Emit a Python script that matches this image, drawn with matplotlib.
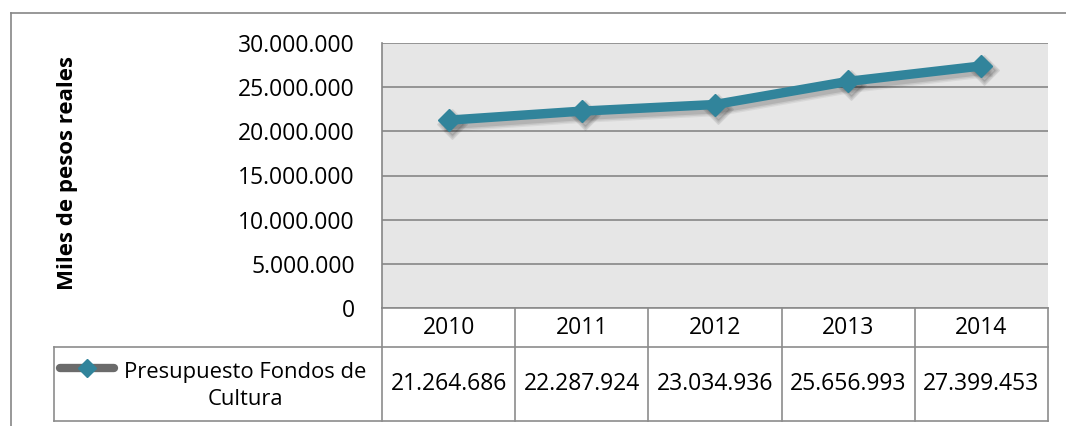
import matplotlib
matplotlib.use("Agg")
import matplotlib.pyplot as plt
from matplotlib.lines import Line2D
from matplotlib.ticker import FuncFormatter, MultipleLocator
from matplotlib.transforms import offset_copy

# data
years = ["2010", "2011", "2012", "2013", "2014"]
presupuesto = [21264686, 22287924, 23034936, 25656993, 27399453]
serie_nombre = "Presupuesto Fondos de\nCultura"
y_label = "Miles de pesos reales"

TEAL = "#31849b"
GRID = "#868686"
plt.rcParams["font.family"] = ["Open Sans", "DejaVu Sans"]
FS = 16.5


def miles(v, pos=None):
    return f"{int(round(v)):,}".replace(",", ".")


fig = plt.figure(figsize=(10.66, 4.26), dpi=100)
ax = fig.add_axes([382 / 1066, 1 - 308 / 426, 666 / 1066, 265 / 426])
ax.set_facecolor("#e6e6e6")

x = list(range(len(years)))
# soft drop shadow under the series (a few faint layers to fake a blur)
for w, a in [(11, 0.06), (9, 0.08), (7, 0.10)]:
    shadow_tr = offset_copy(ax.transData, fig=fig, x=3, y=-4, units="dots")
    ax.plot(x, presupuesto, color="black", alpha=a, lw=w, marker="D", ms=w + 4,
            transform=shadow_tr, zorder=2)
ax.plot(x, presupuesto, color=TEAL, lw=6.8, marker="D", ms=11.5, zorder=3)

ax.set_xlim(-0.5, len(years) - 0.5)
ax.set_ylim(0, 30000000)
ax.yaxis.set_major_locator(MultipleLocator(5000000))
ax.yaxis.set_major_formatter(FuncFormatter(miles))
ax.grid(axis="y", color=GRID, lw=1.2)
ax.set_axisbelow(True)
ax.set_xticks([])
ax.tick_params(axis="y", length=0, pad=19.5, labelsize=FS)
for s in ["top", "right", "bottom"]:
    ax.spines[s].set_visible(False)
ax.spines["left"].set_color(GRID)
ax.spines["left"].set_linewidth(1.2)
fig.text(67 / 1066, 1 - 173 / 426, y_label, rotation=90, ha="center", va="center",
         fontsize=16, fontweight="bold")

# data table under the plot
hdr = -39 / 265
bot = -113 / 265
leg_left = (54 - 382) / 666
kw = dict(color="#8c8c8c", lw=1.2, transform=ax.transAxes, clip_on=False)
ax.add_line(Line2D([0, 1], [0, 0], **kw))
ax.add_line(Line2D([leg_left, 1], [hdr, hdr], **kw))
ax.add_line(Line2D([leg_left, 1], [bot, bot], **kw))
ax.add_line(Line2D([leg_left, leg_left], [hdr, bot], **kw))
n = len(years)
for i in range(n + 1):
    ax.add_line(Line2D([i / n, i / n], [0, bot], **kw))

tr = ax.get_xaxis_transform()
for i, (yr, v) in enumerate(zip(years, presupuesto)):
    ax.text(i, hdr / 2, yr, transform=tr, ha="center", va="center", fontsize=FS)
    ax.text(i, (hdr + bot) / 2, miles(v), transform=tr, ha="center", va="center",
            fontsize=FS)

# legend key inside the table
ky = -60 / 265
kx0, kx1 = (60 - 382) / 666, (114 - 382) / 666
ax.add_line(Line2D([kx0, kx1], [ky, ky], color="#6b6b6b", lw=6, solid_capstyle="round",
                   transform=ax.transAxes, clip_on=False))
ax.add_line(Line2D([(kx0 + kx1) / 2], [ky], color=TEAL, marker="D", ms=9, lw=0,
                   transform=ax.transAxes, clip_on=False))
ax.text((245 - 382) / 666, (hdr + bot) / 2 - 0.008, serie_nombre, transform=ax.transAxes,
        ha="center", va="center", multialignment="center", fontsize=15.8, linespacing=1.35)

# outer chart frame
fig.add_artist(Line2D([11 / 1066, 11 / 1066], [0, 1 - 13 / 426], color=GRID, lw=1.2))
fig.add_artist(Line2D([11 / 1066, 1], [1 - 13 / 426, 1 - 13 / 426], color=GRID, lw=1.2))

fig.savefig("out.png", dpi=100)
